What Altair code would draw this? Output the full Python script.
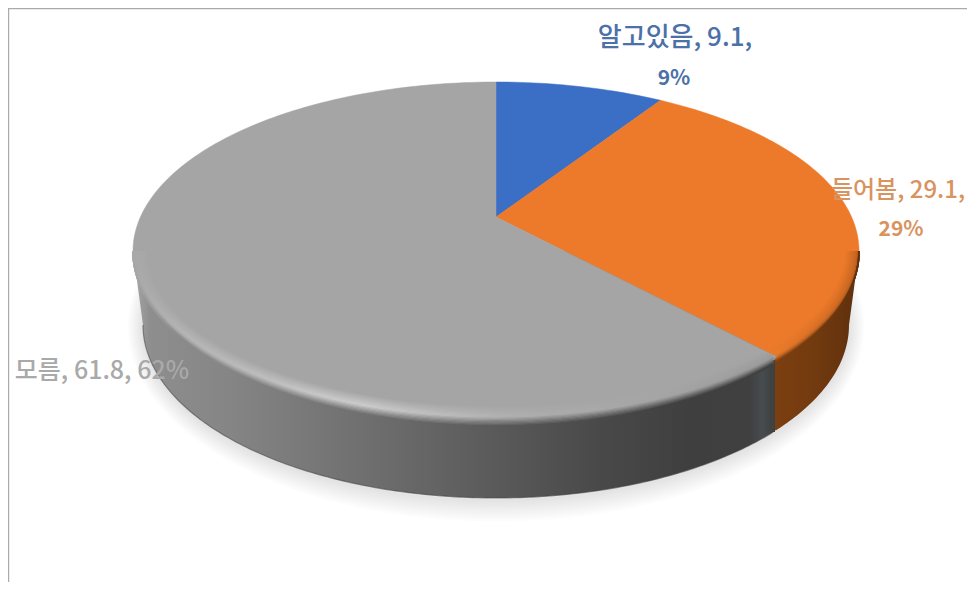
import math
import altair as alt

# ---- data ----
names = ["알고있음", "들어봄", "모름"]
values = [9.1, 29.1, 61.8]
percents = ["9%", "29%", "62%"]

# ---- styles and layout ----
face_colors = ["#3b6ec5", "#ec7a2a", "#a5a5a5"]
label_colors = ["#4c70a8", "#d8935f", "#a9a9a9"]
OX, OY = 8, 8                 # page margin
CX, TOP, BOT, APEX = 496, 82, 420, 217
RX = 363
WALL_CY, WALL_RX, WALL_RY = 325, 353, 173
SEAM_X = 775

# a flat disc seen in perspective: projective map from the unit circle
C = (TOP + BOT - 2 * APEX) / (BOT - TOP)
A = TOP * (1 + C) - APEX
R = RX * math.sqrt(1 - C * C)


def project_disc(x, y):
    d = 1 + C * y
    return [CX + R * x / d, (A * y + APEX) / d]


def wedge(start, end):
    pts = [[CX, APEX]]
    steps = max(2, int((end - start) * 3))
    for i in range(steps + 1):
        t = math.radians((start + (end - start) * i / steps) * 3.6)
        pts.append(project_disc(math.sin(t), math.cos(t)))
    pts.append([CX, APEX])
    return pts


def poly(points):
    return {"type": "Feature", "properties": {}, "geometry": {"type": "Polygon", "coordinates": [points]}}


def line(points):
    return {"type": "Feature", "properties": {}, "geometry": {"type": "LineString", "coordinates": points}}


PROJ = dict(type="identity", scale=1, translate=[-OX, -OY])


def geo(feature, **mark):
    return alt.Chart(alt.Data(values=[feature])).mark_geoshape(**mark).project(**PROJ)


def lerp(a, b, t):
    return a + (b - a) * t


def hexc(rgb):
    return "#%02x%02x%02x" % tuple(int(round(max(0, min(255, v)))) for v in rgb)


def unhex(h):
    return [int(h[i:i + 2], 16) for i in (1, 3, 5)]


def piece(x, stops):
    if x <= stops[0][0]:
        return unhex(stops[0][1])
    for (x0, c0), (x1, c1) in zip(stops, stops[1:]):
        if x <= x1:
            t = (x - x0) / (x1 - x0)
            return [lerp(p, q, t) for p, q in zip(unhex(c0), unhex(c1))]
    return unhex(stops[-1][1])


def grad(stops, x0, x1):
    return alt.LinearGradient(
        gradient="linear", x1=0, x2=1, y1=0, y2=0,
        stops=[alt.GradientStop(offset=max(0, min(1, (x - x0) / (x1 - x0))), color=c) for x, c in stops],
    )


gray_wall = [(133, "#a8a8a8"), (150, "#8e8e8e"), (230, "#858585"), (340, "#737373"), (470, "#5e5e5e"), (600, "#494949"),
             (690, "#3f3f3f"), (750, "#404040"), (762, "#474c50"), (770, "#414343"), (SEAM_X, "#3f3f3f")]
orange_wall = [(SEAM_X, "#7b3f10"), (810, "#743b0f"), (859, "#5e300d")]
gray_high = [(133, "#a8a8a8"), (170, "#b4b4b4"), (260, "#bebebe"), (350, "#cfcfcf"), (430, "#c0c0c0"),
             (520, "#aeaeae"), (620, "#a8a8a8"), (SEAM_X, "#9a9a9a")]
orange_high = [(SEAM_X, "#e87a2c"), (859, "#c8651f")]

layers = []

# frame of the picture
layers.append(geo(line([[8.5, 590], [8.5, 8.5], [975, 8.5]]), filled=False, stroke="#aaaaaa", strokeWidth=1.4))

# soft shadow
for i in range(1, 10):
    n = 240
    rx, ry = WALL_RX + i * 1.7, WALL_RY + i * 2.4
    pts = [[CX + rx * math.cos(2 * math.pi * k / n), WALL_CY + 2 + ry * math.sin(2 * math.pi * k / n)] for k in range(n + 1)]
    layers.append(geo(poly(pts), fill="#000000", fillOpacity=0.012, stroke=None))

# side wall
cy_top = (TOP + BOT) / 2
lower = [[CX - WALL_RX * math.cos(math.pi * k / 240), WALL_CY + WALL_RY * math.sin(math.pi * k / 240)] for k in range(241)]
gray_side = [p for p in lower if p[0] <= SEAM_X]
orange_side = [p for p in lower if p[0] >= SEAM_X]
layers.append(geo(poly([[CX - RX, cy_top]] + gray_side + [[SEAM_X, gray_side[-1][1]], [SEAM_X, cy_top], [CX - RX, cy_top]]),
                  fill=grad(gray_wall, CX - RX, SEAM_X), stroke=None))
layers.append(geo(poly([[SEAM_X, cy_top], [SEAM_X, orange_side[0][1]]] + orange_side + [[CX + RX, cy_top], [SEAM_X, cy_top]]),
                  fill=grad(orange_wall, SEAM_X, CX + RX), stroke=None))

# dark line along the foot of the wall
layers.append(geo(line(gray_side), filled=False, stroke="#444444", strokeWidth=1.2, strokeOpacity=0.55))

# top face, one wedge per category
start = 0.0
total = sum(values)
edge_end = None
for k, (v, col) in enumerate(zip(values, face_colors)):
    end = start + v / total * 100
    w = wedge(start, end)
    layers.append(geo(poly(w), fill=col, stroke=col, strokeWidth=0.5))
    if k == 1:
        edge_end = w[-2]
    start = end


def on_gray_side(p):
    if p[0] > SEAM_X:
        return False
    slope = (edge_end[1] - APEX) / (edge_end[0] - CX)
    return p[0] < CX or p[1] >= APEX + slope * (p[0] - CX)


# rounded, blurred rim on the near edge of the top face
def rim(d):
    ry = (BOT - TOP) / 2 + d
    rx = RX + min(d, 0)
    return [[CX - rx * math.cos(math.pi * k / 300), cy_top + ry * math.sin(math.pi * k / 300)] for k in range(301)]


def rim_color(x, d, wall, high, face):
    w, h, f = piece(x, wall), piece(x, high), unhex(face)
    if d < -3:
        t = (d + 14) / 11
        return [lerp(p, q, t) for p, q in zip(f, h)]
    t = (d + 3) / 9
    return [lerp(p, q, t) for p, q in zip(h, w)]


for d in [-14 + 1.25 * j for j in range(17)]:
    pts = rim(d)
    g_pts = [p for p in pts if on_gray_side(p)]
    o_pts = [p for p in pts if not on_gray_side(p)]
    if len(g_pts) > 1:
        x0, x1 = g_pts[0][0], g_pts[-1][0]
        xs = [x0 + (x1 - x0) * q / 14 for q in range(15)]
        stops = [(x, hexc(rim_color(x, d, gray_wall, gray_high, "#a5a5a5"))) for x in xs]
        layers.append(geo(line(g_pts), filled=False, stroke=grad(stops, x0, x1), strokeWidth=1.7))
    if len(o_pts) > 1:
        x0, x1 = o_pts[0][0], o_pts[-1][0]
        xs = [x0 + (x1 - x0) * q / 4 for q in range(5)]
        stops = [(x, hexc(rim_color(x, d, orange_wall, orange_high, "#ec7a2a"))) for x in xs]
        layers.append(geo(line(o_pts), filled=False, stroke=grad(stops, x0, x1), strokeWidth=1.7))

# data labels
label_rows = [
    {"t": f"{names[0]}, {values[0]},", "x": 675 - OX, "y": 38 - OY, "c": label_colors[0], "s": 26, "w": "name"},
    {"t": f"{names[1]}, {values[1]},", "x": 898 - OX, "y": 191 - OY, "c": label_colors[1], "s": 24, "w": "name"},
    {"t": f"{names[2]}, {values[2]}, {percents[2]}", "x": 102 - OX, "y": 371 - OY, "c": label_colors[2], "s": 25, "w": "name"},
    {"t": percents[0], "x": 674 - OX, "y": 79 - OY, "c": label_colors[0], "s": 21, "w": "pct"},
    {"t": percents[1], "x": 901 - OX, "y": 230 - OY, "c": label_colors[1], "s": 21, "w": "pct"},
]
for kind, weight in [("name", 500), ("pct", 700)]:
    rows = [r for r in label_rows if r["w"] == kind]
    layers.append(
        alt.Chart(alt.Data(values=rows))
        .mark_text(font="Noto Sans CJK KR", fontWeight=weight, align="center", baseline="middle")
        .encode(
            x=alt.X("x:Q", scale=None),
            y=alt.Y("y:Q", scale=None),
            text="t:N",
            size=alt.Size("s:Q", scale=None),
            color=alt.Color("c:N", scale=None),
        )
    )

chart = (
    alt.layer(*layers)
    .properties(width=959, height=574, padding=0, autosize="none", background="#ffffff")
    .configure_view(stroke=None)
)
chart.save("out.html", embed_options={"renderer": "svg", "actions": False})
